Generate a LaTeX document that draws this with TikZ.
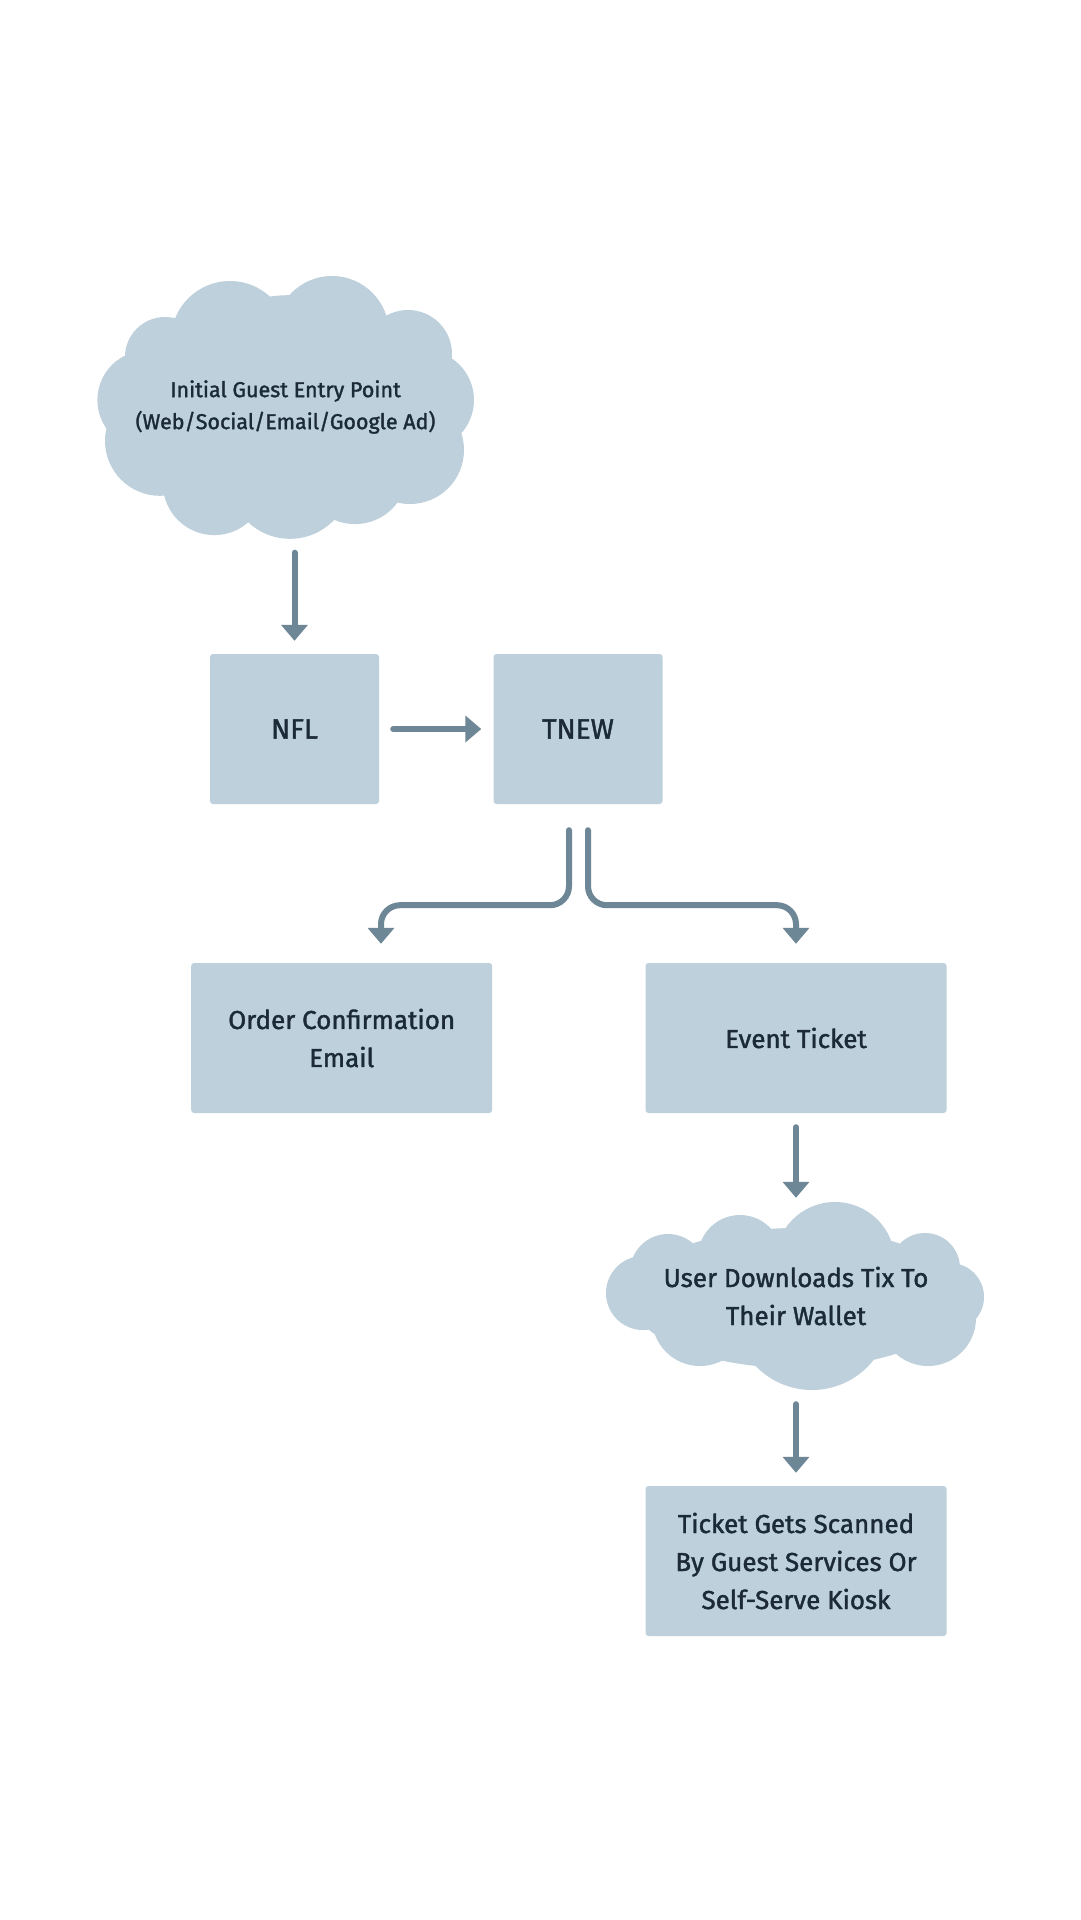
\documentclass[tikz,border=0pt]{standalone}
\usepackage{fontspec}
\setmainfont{Fira Sans}[FakeBold=1.5]
\usetikzlibrary{arrows.meta,calc}
\definecolor{boxfill}{RGB}{189,208,220}
\definecolor{arrowc}{RGB}{110,135,150}
\definecolor{textc}{RGB}{28,42,56}
\tikzset{
  boxnode/.style={fill=boxfill, rounded corners=3pt, inner sep=0pt, text=textc, align=center, font=\fontsize{26}{38}\selectfont},
  cloudnode/.style={inner sep=0pt, text=textc, align=center},
  arr/.style={draw=arrowc, line width=6pt, line cap=round, -{Triangle[width=26pt,length=16pt]}},
}
\begin{document}
\begin{tikzpicture}[x=1pt,y=-1pt]
\fill[white] (0,0) rectangle (1080,1920);
\useasboundingbox (0,0) rectangle (1080,1920);

% cloud 1
\fill[boxfill]
  (165,357) circle[radius=40pt]
  (230,340) circle[radius=59pt]
  (332,333) circle[radius=57pt]
  (408,354) circle[radius=44pt]
  (424,400) circle[radius=50pt]
  (410,450) circle[radius=54pt]
  (355,471.4) circle[radius=52.7pt]
  (290,477.6) circle[radius=61.2pt]
  (214.3,483.7) circle[radius=51.4pt]
  (160,440.8) circle[radius=55pt]
  (146.9,400) circle[radius=49.5pt]
  (287.8,410.2) circle[radius=115pt];
\node[cloudnode, minimum width=377pt, minimum height=263pt, font=\fontsize{21.5}{32}\selectfont] (cloud1) at (285.5,407) {Initial Guest Entry Point\\(Web/Social/Email/Google Ad)};

% cloud 2
\fill[boxfill]
  (643,1293) circle[radius=37pt]
  (668,1272) circle[radius=38pt]
  (740,1257) circle[radius=42pt]
  (835,1262) circle[radius=60pt]
  (925,1268) circle[radius=35pt]
  (950,1297) circle[radius=34pt]
  (928,1318) circle[radius=48pt]
  (812,1312) circle[radius=78pt]
  (700,1318) circle[radius=48pt]
  (796,1298) ellipse[x radius=165pt, y radius=70pt];
\node[cloudnode, minimum width=378pt, minimum height=188pt, font=\fontsize{26}{38}\selectfont] (cloud2) at (796,1296) {User Downloads Tix To\\Their Wallet};

% boxes
\node[boxnode, minimum width=169pt, minimum height=150pt, font=\fontsize{28}{34}\selectfont] (nfl) at (294.5,729) {NFL};
\node[boxnode, minimum width=169pt, minimum height=150pt, font=\fontsize{28}{34}\selectfont] (tnew) at (578,729) {TNEW};
\node[boxnode, minimum width=301pt, minimum height=150pt] (order) at (341.7,1038) {Order Confirmation\\Email};
\node[boxnode, minimum width=301pt, minimum height=150pt] (event) at (796,1038) {Event Ticket};
\node[boxnode, minimum width=301pt, minimum height=150pt] (scan) at (796,1561) {Ticket Gets Scanned\\By Guest Services Or\\Self-Serve Kiosk};

% connectors
\draw[arr, shorten <=14pt, shorten >=13pt] (cloud1.south -| nfl.north) -- (nfl.north);
\draw[arr, shorten <=14pt, shorten >=12pt] (nfl.east) -- (tnew.west);
\draw[arr, rounded corners=19pt] ([xshift=-9pt,yshift=-26pt]tnew.south) -- ++(0,75) -| ([xshift=39.3pt,yshift=19pt]order.north);
\draw[arr, rounded corners=19pt] ([xshift=10pt,yshift=-26pt]tnew.south) -- ++(0,75) -| ([yshift=19pt]event.north);
\draw[arr, shorten <=14pt, shorten >=4pt] (event.south) -- (cloud2.north);
\draw[arr, shorten <=14pt, shorten >=13pt] (cloud2.south) -- (scan.north);
\end{tikzpicture}
\end{document}
